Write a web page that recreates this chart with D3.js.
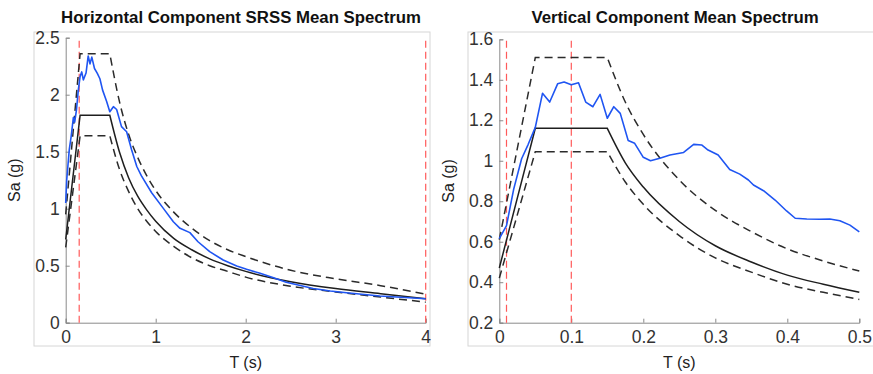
<!DOCTYPE html>
<html>
<head>
<meta charset="utf-8">
<script src="https://cdn.jsdelivr.net/npm/d3@7"></script>
<style>
  body { margin: 0; background: #fff; }
  svg { font-family: "Liberation Sans", Arial, sans-serif; }
</style>
</head>
<body>
<div id="chart"></div>
<script>
// ---- horizontal component (left panel) ----
var hTitle = "Horizontal Component SRSS Mean Spectrum";
var hXTicks = [0, 1, 2, 3, 4];
var hYTicks = [0, 0.5, 1, 1.5, 2, 2.5];
var hRedLines = [0.15, 4];

// design spectrum (ramp, plateau, then decay)
var hDesignT     = [0, 0.16, 0.49, 0.6, 0.7, 0.8, 0.9, 1.0, 1.2, 1.4, 1.6, 1.8, 2.0, 2.5, 3.0, 3.5, 4.0];
var hDesignMid   = [0.73, 1.82, 1.82, 1.49, 1.27, 1.11, 0.99, 0.89, 0.74, 0.64, 0.56, 0.50, 0.45, 0.36, 0.30, 0.255, 0.21];
var hDesignUpper = [0.95, 2.36, 2.36, 1.93, 1.65, 1.45, 1.29, 1.16, 0.97, 0.83, 0.72, 0.64, 0.58, 0.46, 0.385, 0.325, 0.25];
var hDesignLower = [0.66, 1.64, 1.64, 1.34, 1.15, 1.00, 0.89, 0.80, 0.67, 0.57, 0.50, 0.45, 0.40, 0.32, 0.27, 0.225, 0.18];

// SRSS mean spectrum (blue)
var hMeanT  = [0, 0.011, 0.04, 0.06, 0.085, 0.10, 0.12, 0.14, 0.16, 0.178, 0.196, 0.226, 0.25, 0.27, 0.29, 0.32, 0.35, 0.38,
               0.41, 0.455, 0.49, 0.53, 0.566, 0.62, 0.677, 0.733, 0.79, 0.84, 0.955, 1.085, 1.196, 1.27, 1.38, 1.47,
               1.60, 1.75, 1.90, 2.01, 2.16, 2.31, 2.45, 2.75, 2.94, 3.12, 3.49, 4.0];
var hMeanSa = [1.05, 1.25, 1.52, 1.63, 1.80, 1.76, 1.87, 2.04, 2.16, 2.20, 2.13, 2.19, 2.34, 2.27, 2.33, 2.23, 2.19, 2.14,
               2.04, 1.94, 1.85, 1.895, 1.87, 1.72, 1.675, 1.515, 1.37, 1.29, 1.14, 1.003, 0.886, 0.828, 0.79, 0.71,
               0.623, 0.55, 0.497, 0.468, 0.433, 0.395, 0.355, 0.30, 0.278, 0.263, 0.234, 0.21];

// ---- vertical component (right panel) ----
var vTitle = "Vertical Component Mean Spectrum";
var vXTicks = [0, 0.1, 0.2, 0.3, 0.4, 0.5];
var vYTicks = [0.2, 0.4, 0.6, 0.8, 1.0, 1.2, 1.4, 1.6];
var vRedLines = [0.01, 0.1];

var vDesignT     = [0, 0.05, 0.15, 0.175, 0.2, 0.25, 0.3, 0.35, 0.4, 0.45, 0.5];
var vDesignMid   = [0.47, 1.16, 1.16, 0.99, 0.87, 0.70, 0.58, 0.50, 0.435, 0.39, 0.35];
var vDesignUpper = [0.61, 1.51, 1.51, 1.29, 1.13, 0.905, 0.755, 0.65, 0.565, 0.505, 0.455];
var vDesignLower = [0.42, 1.045, 1.045, 0.895, 0.785, 0.63, 0.52, 0.45, 0.39, 0.35, 0.315];

var vMeanT  = [0, 0.01, 0.02, 0.031, 0.04, 0.05, 0.06, 0.07, 0.081, 0.09, 0.10, 0.11, 0.12, 0.13, 0.14, 0.15, 0.159,
               0.168, 0.179, 0.188, 0.2, 0.21, 0.223, 0.237, 0.256, 0.27, 0.281, 0.29, 0.304, 0.32, 0.334, 0.346,
               0.353, 0.367, 0.383, 0.399, 0.411, 0.427, 0.445, 0.459, 0.473, 0.487, 0.5];
var vMeanSa = [0.615, 0.68, 0.86, 1.01, 1.08, 1.165, 1.333, 1.29, 1.38, 1.389, 1.375, 1.385, 1.29, 1.267, 1.328, 1.21, 1.267,
               1.234, 1.10, 1.086, 1.017, 1.0, 1.012, 1.028, 1.041, 1.081, 1.078, 1.053, 1.028, 0.957, 0.934, 0.905,
               0.88, 0.852, 0.806, 0.752, 0.716, 0.712, 0.711, 0.712, 0.704, 0.682, 0.649];

var W = 873, H = 374;
var svg = d3.select("#chart").append("svg")
  .attr("width", W).attr("height", H);

function zip(xs, ys) { return xs.map(function(x, i) { return [x, ys[i]]; }); }

function drawPanel(o) {
  var g = svg.append("g");

  // light frame around each panel
  g.append("rect")
    .attr("x", o.frame[0]).attr("y", o.frame[1])
    .attr("width", o.frame[2]).attr("height", o.frame[3])
    .attr("fill", "none").attr("stroke", "#d6d6d6").attr("stroke-width", 1);

  var x = d3.scaleLinear().domain(o.xDomain).range(o.xRange);
  var y = d3.scaleLinear().domain(o.yDomain).range(o.yRange);

  // axes, ticks pointing inward like matlab
  var xAxis = g.append("g")
    .attr("transform", "translate(0," + o.yRange[0] + ")")
    .call(d3.axisBottom(x).tickValues(o.xTicks).tickSize(-4).tickPadding(8)
      .tickFormat(d3.format("~g")));
  var yAxis = g.append("g")
    .attr("transform", "translate(" + o.xRange[0] + ",0)")
    .call(d3.axisLeft(y).tickValues(o.yTicks).tickSize(-4).tickPadding(6)
      .tickFormat(d3.format("~g")));
  [xAxis, yAxis].forEach(function(a) {
    a.select(".domain").attr("stroke", "#8a8a8a");
    a.selectAll(".tick line").attr("stroke", "#8a8a8a");
    a.selectAll(".tick text").attr("fill", "#333").style("font-size", "17.5px")
      .style("font-family", "Liberation Sans, Arial, sans-serif");
  });

  // red dashed reference periods
  g.selectAll(".red").data(o.red).enter().append("line")
    .attr("x1", function(d) { return x(d); }).attr("x2", function(d) { return x(d); })
    .attr("y1", o.yRange[0]).attr("y2", o.yRange[1])
    .attr("stroke", "#ff5a5a").attr("stroke-width", 1.2)
    .attr("stroke-dasharray", "7,4");

  var lin = d3.line().x(function(d) { return x(d[0]); }).y(function(d) { return y(d[1]); });
  var smooth = d3.line().curve(d3.curveMonotoneX)
    .x(function(d) { return x(d[0]); }).y(function(d) { return y(d[1]); });

  // design spectra: straight ramp + plateau, smooth decay
  function design(vals, dash, width) {
    var pts = zip(o.dT, vals);
    var p = lin(pts.slice(0, 3)) + smooth(pts.slice(2)).replace(/^M/, "L");
    g.append("path").attr("d", p)
      .attr("fill", "none").attr("stroke", dash ? "#2b2b2b" : "#1e1e1e")
      .attr("stroke-width", width)
      .attr("stroke-dasharray", dash ? "8,5" : null);
  }
  design(o.dUp, true, 1.5);
  design(o.dLo, true, 1.5);
  design(o.dMid, false, 1.5);

  g.append("path").datum(zip(o.mT, o.mSa))
    .attr("d", lin)
    .attr("fill", "none").attr("stroke", "#1f55f2").attr("stroke-width", 1.6)
    .attr("stroke-linejoin", "round");

  // texts
  g.append("text").attr("x", o.titleX).attr("y", 23)
    .attr("text-anchor", "middle").style("font-weight", "bold").style("font-size", "16.8px")
    .attr("fill", "#111").text(o.title);
  g.append("text").attr("x", (o.xRange[0] + o.xRange[1]) / 2).attr("y", 368)
    .attr("text-anchor", "middle").style("font-size", "16px").attr("fill", "#222").text("T (s)");
  g.append("text")
    .attr("transform", "translate(" + o.yLabelX + "," + ((o.yRange[0] + o.yRange[1]) / 2) + ") rotate(-90)")
    .attr("text-anchor", "middle").style("font-size", "16px").attr("fill", "#222").text("Sa (g)");
}

drawPanel({
  frame: [34, 32, 396, 314],
  xDomain: [0, 4], xRange: [65.7, 425.7],
  yDomain: [0, 2.5], yRange: [322.7, 37.7],
  xTicks: hXTicks, yTicks: hYTicks, red: hRedLines,
  dT: hDesignT, dMid: hDesignMid, dUp: hDesignUpper, dLo: hDesignLower,
  mT: hMeanT, mSa: hMeanSa,
  title: hTitle, titleX: 241, yLabelX: 20
});

drawPanel({
  frame: [468, 32, 410, 314],
  xDomain: [0, 0.5], xRange: [499.3, 859.3],
  yDomain: [0.2, 1.6], yRange: [322.7, 39.3],
  xTicks: vXTicks, yTicks: vYTicks, red: vRedLines,
  dT: vDesignT, dMid: vDesignMid, dUp: vDesignUpper, dLo: vDesignLower,
  mT: vMeanT, mSa: vMeanSa,
  title: vTitle, titleX: 675, yLabelX: 454
});
</script>
</body>
</html>
